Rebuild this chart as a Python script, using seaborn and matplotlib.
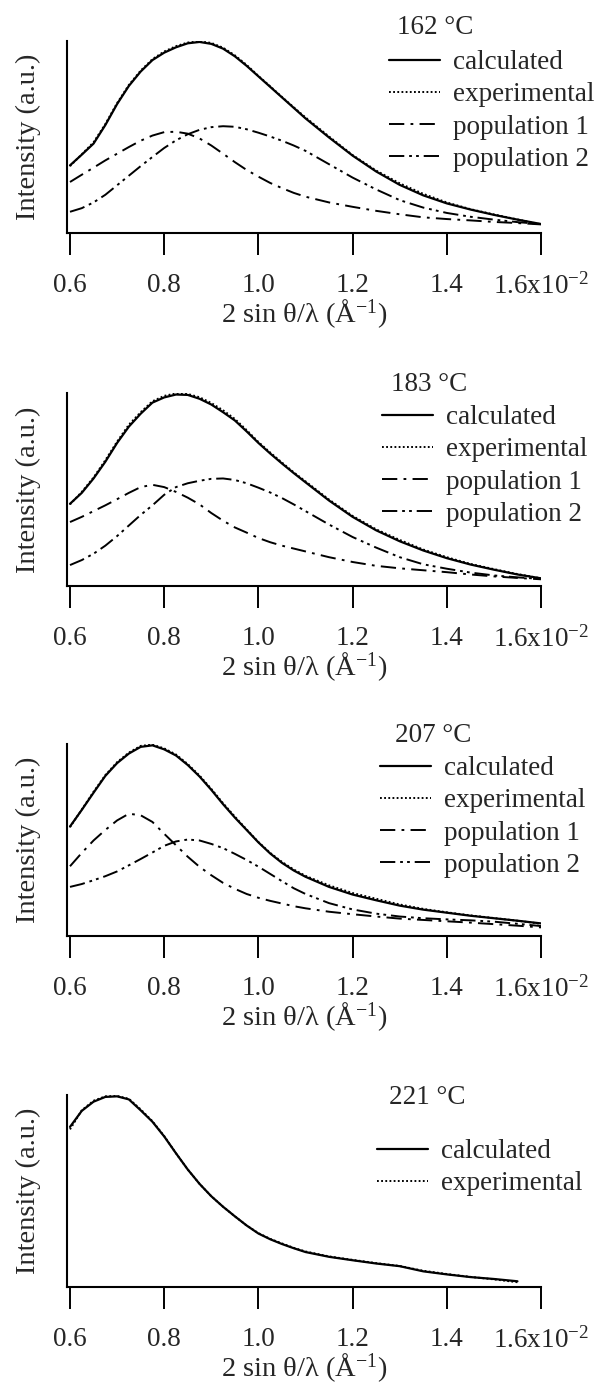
import matplotlib
matplotlib.use('Agg')
import matplotlib.pyplot as plt
import seaborn as sns

# scattering vector grid, units of 10^-2 1/A
x_grid = [0.600, 0.625, 0.650, 0.675, 0.700, 0.725, 0.750, 0.775, 0.800, 0.825, 0.850,
          0.875, 0.900, 0.925, 0.950, 0.975, 1.000, 1.025, 1.050, 1.075, 1.100,
          1.15, 1.20, 1.25, 1.30, 1.35, 1.40, 1.45, 1.50, 1.55, 1.60]
x_grid_221 = x_grid[:-1]

# 162 C
calc_162 = [0.354, 0.41, 0.468, 0.565, 0.675, 0.77, 0.845, 0.905, 0.944, 0.972, 0.993,
            1.0, 0.99, 0.965, 0.925, 0.875, 0.82, 0.765, 0.71, 0.655, 0.60,
            0.50, 0.405, 0.322, 0.252, 0.197, 0.155, 0.123, 0.095, 0.07, 0.047]
exp_162 = [0.35, 0.412, 0.475, 0.57, 0.68, 0.775, 0.85, 0.91, 0.95, 0.978, 0.997,
           1.003, 0.995, 0.97, 0.93, 0.88, 0.822, 0.768, 0.712, 0.658, 0.605,
           0.505, 0.408, 0.327, 0.26, 0.205, 0.16, 0.125, 0.097, 0.071, 0.045]
pop1_162 = [0.267, 0.305, 0.342, 0.38, 0.415, 0.45, 0.483, 0.51, 0.528, 0.53, 0.52,
            0.495, 0.458, 0.415, 0.371, 0.33, 0.295, 0.262, 0.235, 0.21, 0.19,
            0.16, 0.137, 0.116, 0.098, 0.082, 0.073, 0.066, 0.058, 0.052, 0.045]
pop2_162 = [0.111, 0.13, 0.16, 0.20, 0.25, 0.30, 0.35, 0.398, 0.445, 0.485, 0.517,
            0.54, 0.554, 0.559, 0.556, 0.543, 0.525, 0.505, 0.483, 0.458, 0.43,
            0.36, 0.29, 0.228, 0.172, 0.133, 0.105, 0.085, 0.07, 0.057, 0.047]

# 183 C
calc_183 = [0.428, 0.485, 0.56, 0.647, 0.745, 0.83, 0.897, 0.955, 0.982, 0.997, 0.995,
            0.975, 0.945, 0.905, 0.862, 0.805, 0.745, 0.69, 0.638, 0.588, 0.54,
            0.445, 0.36, 0.29, 0.233, 0.185, 0.145, 0.112, 0.085, 0.06, 0.04]
exp_183 = [0.425, 0.49, 0.565, 0.655, 0.752, 0.84, 0.905, 0.962, 0.99, 1.003, 1.0,
           0.983, 0.953, 0.915, 0.87, 0.812, 0.75, 0.695, 0.643, 0.592, 0.545,
           0.45, 0.365, 0.295, 0.24, 0.19, 0.15, 0.115, 0.088, 0.062, 0.04]
pop1_183 = [0.333, 0.36, 0.39, 0.42, 0.452, 0.485, 0.515, 0.527, 0.515, 0.49, 0.46,
            0.425, 0.38, 0.34, 0.305, 0.278, 0.25, 0.228, 0.21, 0.195, 0.18,
            0.15, 0.125, 0.105, 0.092, 0.082, 0.072, 0.06, 0.05, 0.042, 0.035]
pop2_183 = [0.109, 0.135, 0.168, 0.21, 0.26, 0.315, 0.37, 0.42, 0.475, 0.515, 0.535,
            0.548, 0.558, 0.56, 0.552, 0.535, 0.512, 0.487, 0.458, 0.425, 0.39,
            0.32, 0.255, 0.20, 0.15, 0.113, 0.09, 0.07, 0.055, 0.045, 0.037]

# 207 C
calc_207 = [0.573, 0.66, 0.75, 0.838, 0.905, 0.955, 0.99, 0.998, 0.977, 0.945, 0.895,
            0.835, 0.765, 0.69, 0.62, 0.555, 0.49, 0.432, 0.383, 0.343, 0.31,
            0.257, 0.217, 0.187, 0.159, 0.138, 0.122, 0.106, 0.093, 0.08, 0.066]
exp_207 = [0.57, 0.662, 0.755, 0.842, 0.91, 0.96, 0.995, 1.002, 0.982, 0.95, 0.90,
           0.84, 0.77, 0.695, 0.625, 0.558, 0.492, 0.435, 0.388, 0.348, 0.315,
           0.265, 0.225, 0.195, 0.165, 0.142, 0.124, 0.108, 0.094, 0.08, 0.064]
pop1_207 = [0.365, 0.435, 0.50, 0.555, 0.605, 0.64, 0.632, 0.597, 0.535, 0.475, 0.415,
            0.362, 0.318, 0.278, 0.247, 0.22, 0.20, 0.184, 0.17, 0.156, 0.145,
            0.127, 0.114, 0.102, 0.091, 0.084, 0.077, 0.07, 0.062, 0.054, 0.045]
pop2_207 = [0.257, 0.272, 0.292, 0.313, 0.338, 0.37, 0.403, 0.437, 0.472, 0.495, 0.505,
            0.50, 0.482, 0.46, 0.43, 0.398, 0.363, 0.325, 0.287, 0.25, 0.22,
            0.172, 0.139, 0.117, 0.102, 0.093, 0.087, 0.082, 0.075, 0.064, 0.052]

# 221 C
calc_221 = [0.838, 0.922, 0.97, 0.995, 0.998, 0.982, 0.925, 0.865, 0.788, 0.70, 0.615,
            0.54, 0.475, 0.42, 0.37, 0.322, 0.28, 0.25, 0.225, 0.203, 0.183,
            0.158, 0.14, 0.123, 0.109, 0.082, 0.066, 0.052, 0.042, 0.03]
exp_221 = [0.825, 0.925, 0.975, 0.998, 1.0, 0.985, 0.93, 0.868, 0.79, 0.70, 0.615,
           0.54, 0.475, 0.42, 0.37, 0.322, 0.282, 0.252, 0.228, 0.205, 0.186,
           0.16, 0.142, 0.125, 0.11, 0.085, 0.068, 0.053, 0.04, 0.025]

tick_vals = [0.6, 0.8, 1.0, 1.2, 1.4, 1.6]
tick_labels = ['0.6', '0.8', '1.0', '1.2', '1.4', '1.6x10$^{-2}$']

sns.set_style('ticks')
plt.rcParams['font.family'] = ['Liberation Serif', 'DejaVu Serif']
plt.rcParams['mathtext.fontset'] = 'custom'
plt.rcParams['mathtext.rm'] = 'Liberation Serif'
plt.rcParams['mathtext.it'] = 'Liberation Serif:italic'
plt.rcParams['lines.scale_dashes'] = False

FS = 19.5
LFS = 20.5
W, H = 601, 1388

styles = {
    'calculated': dict(linestyle='-', lw=1.6),
    'experimental': dict(linestyle=(0, (1.3, 1.7)), lw=1.4),
    'population 1': dict(linestyle=(0, (11, 4.5, 2, 4.5)), lw=1.4),
    'population 2': dict(linestyle=(0, (11, 3.5, 2, 3, 2, 3.5)), lw=1.4),
}

panels = [
    # (title, axis top px, axis bottom px, legend left px, legend top px, title x px, title y px, series)
    ('162 °C', 41, 233, 389, 50, 397, 27,
     [(x_grid, calc_162, 'calculated'), (x_grid, exp_162, 'experimental'),
      (x_grid, pop1_162, 'population 1'), (x_grid, pop2_162, 'population 2')]),
    ('183 °C', 393, 586, 382, 405, 391, 385,
     [(x_grid, calc_183, 'calculated'), (x_grid, exp_183, 'experimental'),
      (x_grid, pop1_183, 'population 1'), (x_grid, pop2_183, 'population 2')]),
    ('207 °C', 744, 936, 380, 756, 395, 735,
     [(x_grid, calc_207, 'calculated'), (x_grid, exp_207, 'experimental'),
      (x_grid, pop1_207, 'population 1'), (x_grid, pop2_207, 'population 2')]),
    ('221 °C', 1095, 1287, 377, 1139, 389, 1097,
     [(x_grid_221, calc_221, 'calculated'), (x_grid_221, exp_221, 'experimental')]),
]

fig = plt.figure(figsize=(W / 100, H / 100), dpi=100)
left_px, right_px = 67, 541

for title, top, bot, lg_x, lg_y, t_x, t_y, series in panels:
    ax = fig.add_axes([left_px / W, 1 - bot / H, (right_px - left_px) / W, (bot - top) / H])
    for xs, ys, name in series:
        sns.lineplot(x=xs, y=ys, ax=ax, color='black', label=name,
                     errorbar=None, **styles[name])
    ax.set_xlim(0.6 - 3 / 471, 1.6)
    ax.set_ylim(0, 1.005)
    ax.set_xticks(tick_vals)
    ax.set_xticklabels(tick_labels)
    ax.set_yticks([])
    ax.tick_params(axis='x', direction='out', length=16, width=1.4, pad=13,
                   labelsize=FS, color='black')
    for s in ['top', 'right']:
        ax.spines[s].set_visible(False)
    for s in ['left', 'bottom']:
        ax.spines[s].set_linewidth(1.5)
        ax.spines[s].set_color('black')
    ax.set_xlabel('2 sin θ/λ (Å$^{-1}$)', fontsize=LFS, labelpad=-2)
    ax.set_ylabel('Intensity (a.u.)', fontsize=LFS)
    ax.yaxis.set_label_coords(-0.054, 0.5)
    ax.legend(loc='upper left', bbox_to_anchor=(lg_x / W, 1 - lg_y / H),
              bbox_transform=fig.transFigure, frameon=False, fontsize=FS,
              handlelength=1.9, handletextpad=0.45, labelspacing=0.27,
              borderpad=0, borderaxespad=0)
    fig.text(t_x / W, 1 - t_y / H, title, fontsize=FS, ha='left', va='center')

fig.savefig('out.png', dpi=100, facecolor='white')
